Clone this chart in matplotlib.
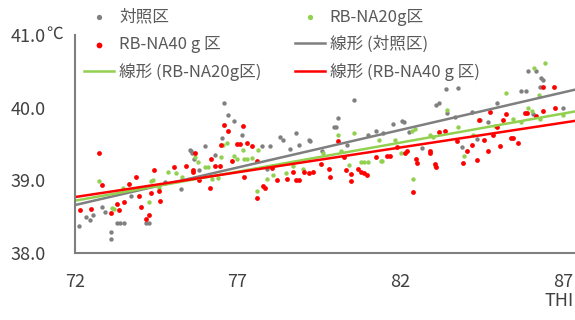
import numpy as np
import matplotlib
matplotlib.use("Agg")
import matplotlib.pyplot as plt

plt.rcParams['font.family'] = ['Noto Sans CJK JP', 'DejaVu Sans']

# scatter data (THI, body temperature)
ctrl_x = [72.13, 72.34, 72.48, 72.56, 72.84, 72.92, 73.12, 73.12, 73.3, 73.4, 73.5, 73.74,
          74.2, 74.27, 74.77, 75.25, 75.53, 75.6, 75.65, 75.56, 75.81, 76.01, 76.3, 76.52,
          76.6, 76.7, 76.9, 77.15, 77.74, 78.0, 78.3, 78.4, 78.6, 78.8, 78.9, 79.19, 77.92,
          79.22, 79.59, 79.96, 80.02, 80.1, 80.38, 80.59, 81.0, 81.25, 81.46, 81.79, 82.06,
          82.12, 82.27, 82.67, 83.1, 83.18, 83.4, 83.45, 83.69, 83.79, 84.2, 83.89, 84.35,
          84.45, 84.7, 84.96, 85.72, 85.92, 86.18, 85.85, 86.07, 86.28, 86.4, 86.33, 86.99]
ctrl_y = [38.37, 38.49, 38.46, 38.53, 38.64, 38.57, 38.29, 38.2, 38.41, 38.41, 38.41, 38.78,
          38.42, 38.42, 38.98, 38.88, 39.42, 39.38, 39.3, 39.41, 39.14, 39.47, 39.35, 39.58,
          40.06, 39.9, 39.81, 39.63, 39.47, 39.47, 39.6, 39.55, 39.43, 39.65, 39.49, 39.55, 39.15,
          39.54, 39.4, 39.74, 39.74, 39.86, 39.48, 40.1, 39.63, 39.68, 39.65, 39.77, 39.82,
          39.8, 39.66, 39.45, 40.04, 40.06, 40.26, 39.92, 39.87, 40.27, 39.94, 39.46, 39.57,
          39.83, 39.8, 40.06, 40.23, 40.5, 40.5, 40.23, 39.91, 40.28, 40.38, 40.41, 40.0]

rb20_x = [72.74, 73.14, 73.2, 73.48, 73.95, 74.29, 74.33, 74.4, 74.6, 74.85, 75.1, 75.3,
          75.69, 75.8, 76.01, 76.1, 76.22, 76.4, 76.5, 76.67, 76.55, 76.9, 77.0, 77.18, 77.2,
          77.3, 77.45, 77.62, 77.59, 77.92, 78.1, 78.05, 78.5, 78.7, 79.0, 79.62, 80.08, 80.18,
          80.43, 80.59, 80.78, 80.9, 81.0, 81.35, 81.4, 81.45, 81.83, 82.01, 82.37, 82.45, 82.4,
          82.92, 83.0, 83.08, 83.45, 83.79, 83.95, 84.25, 84.9, 85.26, 85.46, 85.7, 85.92, 86.05,
          86.26, 86.3, 86.46, 86.1, 87.0]
rb20_y = [38.99, 38.62, 38.6, 38.89, 38.9, 38.7, 38.99, 39.0, 38.9, 39.11, 39.1, 39.05,
          39.32, 39.25, 39.19, 39.19, 39.02, 39.03, 39.32, 39.51, 39.48, 39.34, 39.29, 39.42, 39.29,
          39.3, 39.31, 39.42, 38.86, 39.02, 39.08, 39.2, 39.1, 39.2, 39.15, 39.37, 39.62, 39.41,
          39.21, 39.65, 39.25, 39.25, 39.25, 39.55, 39.26, 39.27, 39.55, 39.37, 39.68, 39.7, 39.02,
          39.62, 39.6, 39.2, 39.97, 39.74, 39.34, 39.62, 39.75, 40.2, 39.84, 39.8, 40.0, 39.95,
          40.17, 39.85, 40.61, 40.54, 39.9]

rb40_x = [72.15, 72.5, 72.74, 72.83, 73.12, 73.3, 73.35, 73.52, 73.66, 73.88, 73.96, 74.04,
          74.2, 74.27, 74.33, 74.43, 74.59, 74.61, 75.05, 75.42, 75.63, 75.64, 75.71, 75.83,
          76.17, 76.18, 76.32, 76.45, 76.5, 76.6, 76.7, 76.83, 77.0, 77.08, 77.16, 77.2, 77.3,
          77.44, 77.59, 77.59, 77.79, 77.85, 78.07, 78.2, 78.53, 78.71, 78.8, 78.9, 79.05, 79.2,
          79.32, 79.57, 79.8, 79.83, 80.1, 80.28, 80.33, 80.49, 80.5, 80.69, 80.8, 80.9, 80.97,
          81.25, 81.6, 81.7, 81.91, 82.14, 82.2, 82.4, 82.47, 82.52, 82.93, 82.92, 83.1, 83.08,
          83.18, 83.38, 83.74, 83.94, 84.04, 84.2, 84.35, 84.43, 84.57, 84.7, 84.75, 84.86,
          84.96, 85.06, 85.16, 85.26, 85.41, 85.46, 85.62, 85.82, 85.9, 86.18, 86.38, 86.4,
          86.73, 86.76]
rb40_y = [38.59, 38.6, 39.37, 38.94, 38.55, 38.67, 38.59, 38.7, 38.95, 39.05, 38.79, 38.63,
          38.47, 38.53, 38.83, 39.14, 38.85, 38.71, 39.19, 39.2, 39.14, 39.12, 39.37, 39.0,
          38.9, 39.29, 39.2, 39.2, 39.49, 39.76, 39.68, 39.27, 39.5, 39.5, 39.75, 39.04, 39.51,
          39.47, 39.26, 38.76, 38.92, 38.9, 39.17, 39.01, 39.02, 39.11, 39.0, 39.01, 39.12, 39.1,
          39.11, 39.23, 39.15, 39.04, 39.54, 39.32, 39.14, 38.99, 39.09, 39.15, 39.12, 39.1, 39.08,
          39.32, 39.34, 39.33, 39.46, 39.37, 39.4, 38.84, 39.3, 39.24, 39.37, 39.4, 39.18, 39.22,
          39.66, 39.68, 39.54, 39.24, 39.41, 39.48, 39.28, 39.83, 39.55, 39.4, 39.94, 39.62,
          39.73, 39.47, 39.83, 39.91, 39.58, 39.58, 39.52, 39.93, 39.92, 39.89, 39.95, 40.28,
          40.28, 40.0]

# linear trend lines (ends)
trend_x = [72, 87.4]
trend_ctrl = [38.66, 40.25]
trend_rb20 = [38.72, 39.95]
trend_rb40 = [38.77, 39.82]

xticks = [72, 77, 82, 87]
yticks = [38.0, 39.0, 40.0, 41.0]

c_gray = '#808080'
c_green = '#92d050'
c_red = '#ff0000'
c_text = '#404040'

fig = plt.figure(figsize=(5.75, 3.2), dpi=100)
ax = fig.add_axes([0.130, 0.209, 0.870, 0.682])

s1 = ax.scatter(ctrl_x, ctrl_y, s=10, color=c_gray, linewidths=0, label='対照区')
s2 = ax.scatter(rb20_x, rb20_y, s=10, color=c_green, linewidths=0, label='RB-NA20g区')
s3 = ax.scatter(rb40_x, rb40_y, s=12, color=c_red, linewidths=0, label='RB-NA40 g 区')
l1, = ax.plot(trend_x, trend_ctrl, color='#7f7f7f', lw=1.8, label='線形 (対照区)')
l2, = ax.plot(trend_x, trend_rb20, color=c_green, lw=1.8, label='線形 (RB-NA20g区)')
l3, = ax.plot(trend_x, trend_rb40, color=c_red, lw=1.8, label='線形 (RB-NA40 g 区)')

ax.set_xlim(72, 87.37)
ax.set_ylim(38, 41)
ax.set_xticks(xticks)
ax.set_xticklabels([str(v) for v in xticks])
ax.set_yticks(yticks)
ax.set_yticklabels(['%.1f' % v for v in yticks])
ax.tick_params(length=0, labelsize=13, colors=c_text)
ax.tick_params(axis='y', pad=21)
ax.tick_params(axis='x', pad=14)
for side in ['top', 'right']:
    ax.spines[side].set_visible(False)
for side in ['left', 'bottom']:
    ax.spines[side].set_color('#7f7f7f')
    ax.spines[side].set_linewidth(1.5)

fig.text(0.080, 0.878, '℃', fontsize=12, color=c_text, ha='left', va='baseline')
fig.text(0.997, 0.03, 'THI', fontsize=13, color=c_text, ha='right', va='bottom')

leg = fig.legend([s1, s3, l2, s2, l1, l3],
                 ['対照区', 'RB-NA40 g 区', '線形 (RB-NA20g区)',
                  'RB-NA20g区', '線形 (対照区)', '線形 (RB-NA40 g 区)'],
                 ncol=2, loc='upper left', bbox_to_anchor=(0.12, 1.02),
                 frameon=False, fontsize=12, handlelength=1.8, handletextpad=0.3,
                 columnspacing=2.0, labelspacing=0.62, markerscale=1.2)
for t in leg.get_texts():
    t.set_color('#595959')

fig.savefig('out.png', dpi=100)
